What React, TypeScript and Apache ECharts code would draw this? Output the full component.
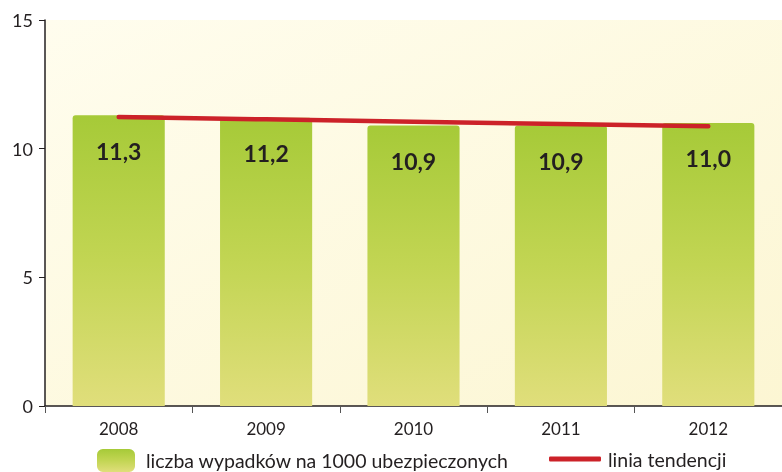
import React, { useEffect, useRef } from "react";
import * as echarts from "echarts";

const years = ["2008", "2009", "2010", "2011", "2012"];
const accidents = [11.3, 11.2, 10.9, 10.9, 11.0];
const trend = [11.23, 11.14, 11.05, 10.96, 10.87];
const barName = "liczba wypadków na 1000 ubezpieczonych";
const trendName = "linia tendencji";

const FONT = "Lato, 'Open Sans', sans-serif";
const INK = "#231f20";

export default function App() {
  const ref = useRef<HTMLDivElement>(null);
  useEffect(() => {
    if (!ref.current) return;
    const chart = echarts.init(ref.current, null, { renderer: "svg" });
    const barGrad = new echarts.graphic.LinearGradient(0, 0, 0, 1, [
      { offset: 0, color: "#a6ca38" },
      { offset: 0.5, color: "#c2d553" },
      { offset: 1, color: "#e0de7b" },
    ]);
    chart.setOption({
      animation: false,
      textStyle: { fontFamily: FONT },
      grid: {
        left: 45,
        top: 20,
        right: 0,
        bottom: 66,
        show: true,
        borderWidth: 0,
        backgroundColor: new echarts.graphic.LinearGradient(0, 0, 1, 1, [
          { offset: 0, color: "#fffdee" },
          { offset: 1, color: "#fcf6d3" },
        ]),
      },
      legend: [
        {
          data: [barName],
          left: 92,
          top: 444,
          itemWidth: 38,
          itemHeight: 23,
          itemGap: 0,
          textStyle: { fontSize: 19.5, color: INK, fontFamily: FONT, padding: [0, 0, 0, 6] },
        },
        {
          data: [{ name: trendName, icon: "roundRect" }],
          left: 544,
          top: 444,
          itemWidth: 52,
          itemHeight: 5,
          textStyle: { fontSize: 19.5, color: INK, fontFamily: FONT, padding: [0, 0, 0, 2] },
        },
      ],
      xAxis: {
        type: "category",
        data: years,
        axisLine: { lineStyle: { color: INK, width: 1.5 } },
        axisTick: { show: true, length: 7, lineStyle: { color: "#555" } },
        axisLabel: { fontSize: 17, color: INK, margin: 14, fontFamily: FONT },
      },
      yAxis: {
        type: "value",
        min: 0,
        max: 15,
        interval: 5,
        splitLine: { show: false },
        axisLine: { show: true, lineStyle: { color: INK, width: 1.5 } },
        axisTick: { show: true, length: 6, lineStyle: { color: INK } },
        axisLabel: { fontSize: 18, color: INK, margin: 12, fontFamily: FONT },
      },
      series: [
        {
          name: barName,
          type: "bar",
          data: accidents,
          barCategoryGap: "37.5%",
          itemStyle: { color: barGrad, borderRadius: [3, 3, 0, 0] },
          label: {
            show: true,
            position: "insideTop",
            distance: 24,
            fontSize: 23,
            fontWeight: "bold",
            color: INK,
            fontFamily: FONT,
            formatter: (p: any) => p.value.toFixed(1).replace(".", ","),
          },
        },
        {
          name: trendName,
          type: "line",
          data: trend,
          showSymbol: false,
          symbol: "none",
          lineStyle: { color: "#cc2229", width: 4.5, cap: "round" },
          itemStyle: { color: "#cc2229" },
          z: 5,
        },
      ],
    });
    return () => chart.dispose();
  }, []);
  return (
    <div
      ref={ref}
      style={{ position: "fixed", left: 0, top: 0, width: 782, height: 472 }}
    />
  );
}
